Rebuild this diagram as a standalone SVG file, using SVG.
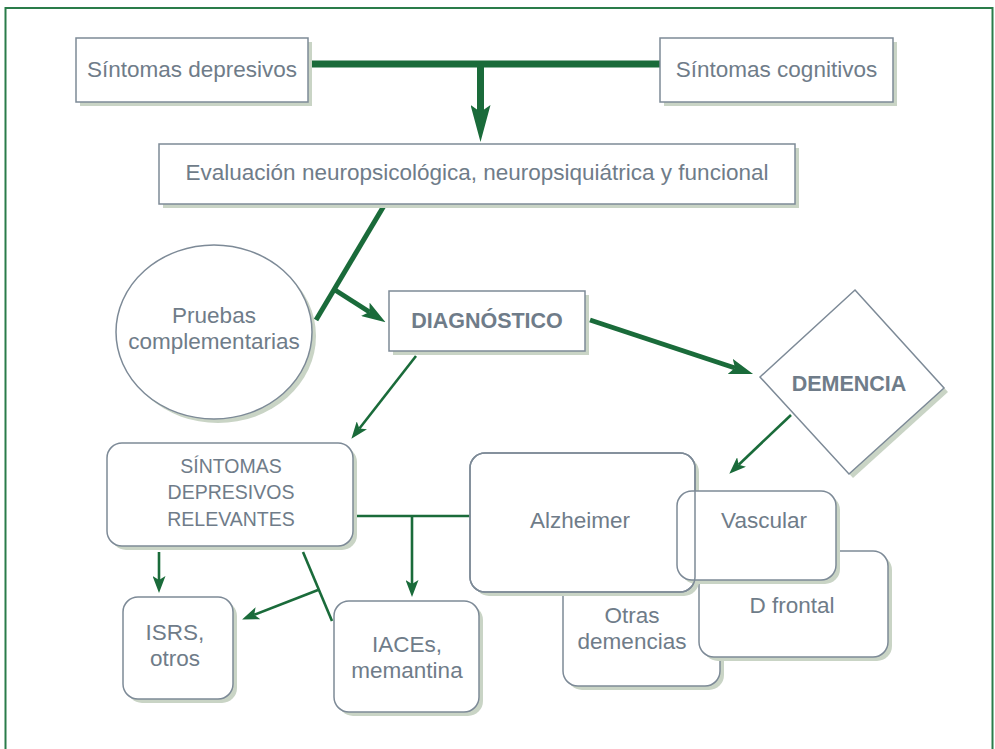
<svg xmlns="http://www.w3.org/2000/svg" width="995" height="749" viewBox="0 0 995 749">
  <style>
    .box { fill: #ffffff; stroke: #7d8a97; stroke-width: 1.5; }
    .outline { fill: none; stroke: #7d8a97; stroke-width: 1.5; }
    .shadow { fill: #c9d4c5; stroke: none; }
    .lbl { font-family: "Liberation Sans", Arial, sans-serif; font-size: 22.5px; fill: #6f7c89; text-anchor: middle; }
    .caps { font-size: 19.5px; }
    .bold { font-weight: bold; font-size: 21.5px; }
    .thick { stroke: #1a6b3a; stroke-width: 7; fill: none; }
    .mid { stroke: #1a6b3a; stroke-width: 5; fill: none; }
    .thin { stroke: #1a6b3a; stroke-width: 2.6; fill: none; }
  </style>
  <defs>
    <marker id="headBig" markerUnits="userSpaceOnUse" viewBox="0 0 37 20" markerWidth="37" markerHeight="20" refX="7" refY="10" orient="auto">
      <path d="M0,0 L37,10 L0,20 L7,10 z" fill="#1a6b3a"/>
    </marker>
    <marker id="headMid" markerUnits="userSpaceOnUse" viewBox="0 0 24 16" markerWidth="24" markerHeight="16" refX="5" refY="8" orient="auto">
      <path d="M0,0 L24,8 L0,16 L5,8 z" fill="#1a6b3a"/>
    </marker>
    <marker id="headSmall" markerUnits="userSpaceOnUse" viewBox="0 0 17 13" markerWidth="17" markerHeight="13" refX="4" refY="6.5" orient="auto">
      <path d="M0,0 L17,6.5 L0,13 L4,6.5 z" fill="#1a6b3a"/>
    </marker>
  </defs>

  <rect x="0" y="0" width="995" height="749" fill="#ffffff"/>
  <!-- outer frame -->
  <rect x="5.5" y="8" width="987" height="760" fill="none" stroke="#2a7c4a" stroke-width="2"/>

  <!-- connectors -->
  <g id="connectors">
    <line class="thick" x1="308" y1="64" x2="660" y2="64"/>
    <line class="thick" x1="480.5" y1="64" x2="480.5" y2="112" marker-end="url(#headBig)"/>
    <line class="mid" stroke-width="6" x1="385" y1="204" x2="316" y2="320"/>
    <line class="mid" x1="335" y1="290" x2="369.5" y2="312" marker-end="url(#headMid)"/>
    <line class="mid" x1="590" y1="320" x2="735" y2="368" marker-end="url(#headMid)"/>
    <line class="thin" x1="416" y1="356" x2="359.4" y2="428.5" marker-end="url(#headSmall)"/>
    <line class="thin" x1="791" y1="415" x2="738.7" y2="464.7" marker-end="url(#headSmall)"/>
    <line class="thin" x1="353" y1="516" x2="470" y2="516"/>
    <line class="thin" x1="412" y1="516" x2="412" y2="584" marker-end="url(#headSmall)"/>
    <line class="thin" x1="159" y1="552" x2="159" y2="580" marker-end="url(#headSmall)"/>
    <line class="thin" x1="303" y1="552" x2="332" y2="621"/>
    <line class="thin" x1="318" y1="590" x2="254.2" y2="614.7" marker-end="url(#headSmall)"/>
  </g>

  <g id="sintomas-depresivos">
    <rect class="shadow" x="80" y="42" width="232" height="64"/>
    <rect class="box" x="76" y="38" width="232" height="64"/>
    <text class="lbl" x="192" y="77">Síntomas depresivos</text>
  </g>

  <g id="sintomas-cognitivos">
    <rect class="shadow" x="664" y="42" width="233" height="64"/>
    <rect class="box" x="660" y="38" width="233" height="64"/>
    <text class="lbl" x="776.5" y="77">Síntomas cognitivos</text>
  </g>

  <g id="evaluacion">
    <rect class="shadow" x="163" y="148" width="636" height="60"/>
    <rect class="box" x="159" y="144" width="636" height="60"/>
    <text class="lbl" x="477" y="180">Evaluación neuropsicológica, neuropsiquiátrica y funcional</text>
  </g>

  <g id="pruebas">
    <ellipse class="shadow" cx="218" cy="336" rx="98" ry="87"/>
    <ellipse class="box" cx="214" cy="332" rx="98" ry="87"/>
    <text class="lbl" x="214" y="323">Pruebas</text>
    <text class="lbl" x="214" y="349">complementarias</text>
  </g>

  <g id="diagnostico">
    <rect class="shadow" x="393" y="295" width="196" height="60"/>
    <rect class="box" x="389" y="291" width="196" height="60"/>
    <text class="lbl bold" x="487" y="328">DIAGNÓSTICO</text>
  </g>

  <g id="demencia">
    <polygon class="shadow" points="858,294 948,392 853,478 764,381"/>
    <polygon class="box" points="855,290 944,388 849,474 760,377"/>
    <text class="lbl bold" x="849" y="391">DEMENCIA</text>
  </g>

  <g id="sintomas-relevantes">
    <rect class="shadow" x="111" y="447" width="246" height="103" rx="15"/>
    <rect class="box" x="107" y="443" width="246" height="103" rx="15"/>
    <text class="lbl caps" x="231" y="473">SÍNTOMAS</text>
    <text class="lbl caps" x="231" y="499">DEPRESIVOS</text>
    <text class="lbl caps" x="231" y="526">RELEVANTES</text>
  </g>

  <g id="isrs">
    <rect class="shadow" x="127" y="601" width="110" height="102" rx="15"/>
    <rect class="box" x="123" y="597" width="110" height="102" rx="15"/>
    <text class="lbl" x="175" y="640">ISRS,</text>
    <text class="lbl" x="175" y="666">otros</text>
  </g>

  <g id="iaces">
    <rect class="shadow" x="338" y="605" width="145" height="111" rx="15"/>
    <rect class="box" x="334" y="601" width="145" height="111" rx="15"/>
    <text class="lbl" x="407" y="652">IACEs,</text>
    <text class="lbl" x="407" y="678">memantina</text>
  </g>

  <g id="otras-demencias">
    <rect class="shadow" x="567" y="549" width="157" height="141" rx="15"/>
    <rect class="box" x="563" y="545" width="157" height="141" rx="15"/>
    <text class="lbl" x="632" y="623">Otras</text>
    <text class="lbl" x="632" y="649">demencias</text>
  </g>

  <g id="d-frontal">
    <rect class="shadow" x="703" y="555" width="189" height="106" rx="15"/>
    <rect class="box" x="699" y="551" width="189" height="106" rx="15"/>
    <text class="lbl" x="792" y="613">D frontal</text>
  </g>

  <g id="alzheimer">
    <rect class="shadow" x="474" y="457" width="225" height="139" rx="15"/>
    <rect class="box" x="470" y="453" width="225" height="139" rx="15"/>
    <text class="lbl" x="580" y="528">Alzheimer</text>
  </g>

  <g id="vascular">
    <rect class="shadow" x="681" y="495" width="159" height="89" rx="15"/>
    <rect class="box" x="677" y="491" width="159" height="89" rx="15"/>
    <text class="lbl" x="764" y="528">Vascular</text>
  </g>

  <!-- Alzheimer outline redrawn over the Vascular box where they overlap -->
  <rect class="outline" x="470" y="453" width="225" height="139" rx="15"/>
</svg>
